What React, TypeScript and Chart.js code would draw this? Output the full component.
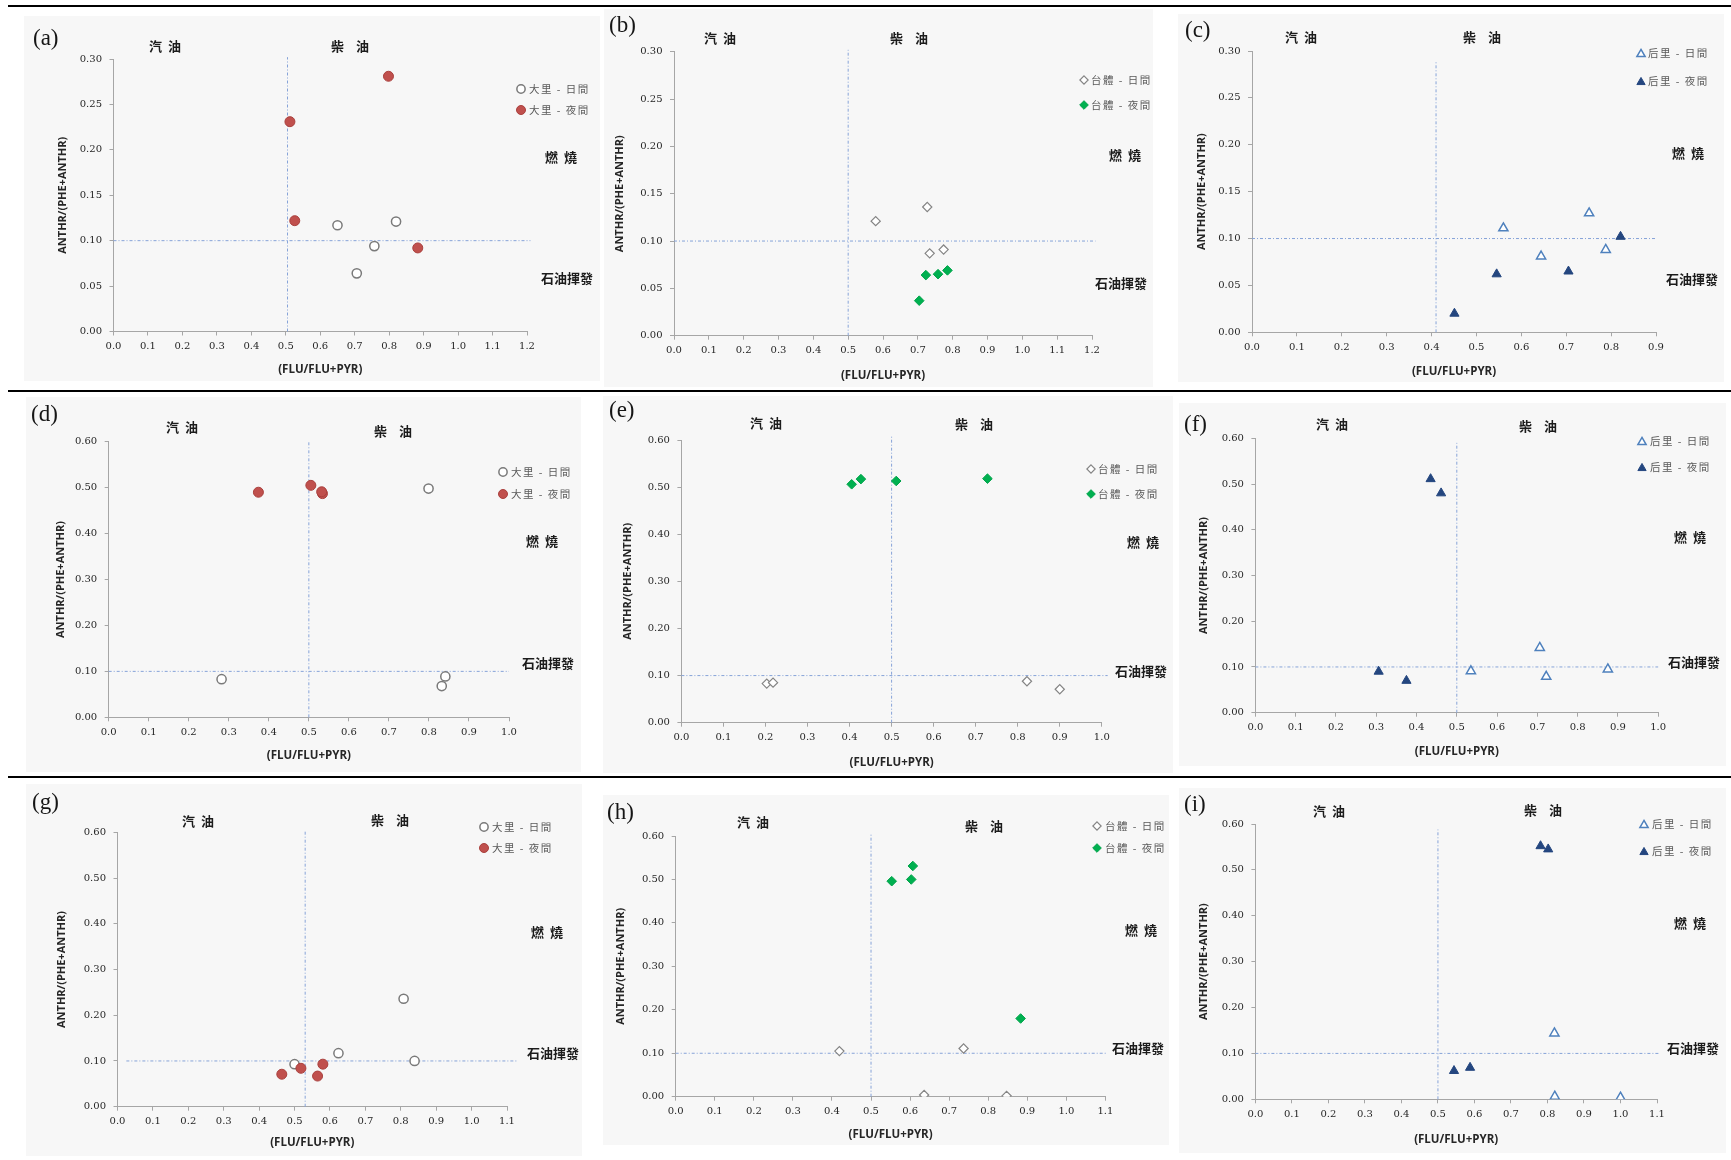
import React, { useEffect, useRef } from 'react';
import { Chart, registerables } from 'chart.js';

Chart.register(...registerables);

// ---------------- data (FLU/(FLU+PYR), ANTHR/(PHE+ANTHR)) ----------------
const aDay = [[0.65, 0.117], [0.82, 0.121], [0.757, 0.094], [0.706, 0.064]];
const aNight = [[0.798, 0.281], [0.512, 0.231], [0.526, 0.122], [0.883, 0.092]];
const bDay = [[0.579, 0.121], [0.727, 0.136], [0.734, 0.087], [0.774, 0.091]];
const bNight = [[0.723, 0.064], [0.758, 0.065], [0.785, 0.069], [0.704, 0.037]];
const cDay = [[0.56, 0.111], [0.751, 0.127], [0.644, 0.081], [0.788, 0.088]];
const cNight = [[0.821, 0.102], [0.545, 0.062], [0.705, 0.065], [0.451, 0.02]];
const dDay = [[0.799, 0.498], [0.282, 0.083], [0.841, 0.089], [0.832, 0.068]];
const dNight = [[0.374, 0.49], [0.505, 0.505], [0.534, 0.487], [0.532, 0.491]];
const eDay = [[0.203, 0.083], [0.218, 0.085], [0.822, 0.088], [0.9, 0.071]];
const eNight = [[0.405, 0.506], [0.427, 0.517], [0.511, 0.513], [0.728, 0.518]];
const fDay = [[0.535, 0.091], [0.706, 0.142], [0.722, 0.079], [0.875, 0.095]];
const fNight = [[0.435, 0.511], [0.461, 0.48], [0.306, 0.09], [0.375, 0.07]];
const gDay = [[0.808, 0.236], [0.624, 0.117], [0.839, 0.1], [0.5, 0.093]];
const gNight = [[0.464, 0.071], [0.518, 0.084], [0.58, 0.093], [0.565, 0.067]];
const hDay = [[0.419, 0.105], [0.737, 0.111], [0.636, 0.004], [0.847, 0.002]];
const hNight = [[0.553, 0.496], [0.603, 0.5], [0.607, 0.531], [0.883, 0.18]];
const iDay = [[0.819, 0.144], [0.82, 0.006], [1.0, 0.004]];
const iNight = [[0.781, 0.552], [0.802, 0.545], [0.544, 0.062], [0.588, 0.069]];

const PANEL_IDS = ['a', 'b', 'c', 'd', 'e', 'f', 'g', 'h', 'i'];
const DAY_DATA = [aDay, bDay, cDay, dDay, eDay, fDay, gDay, hDay, iDay];
const NIGHT_DATA = [aNight, bNight, cNight, dNight, eNight, fNight, gNight, hNight, iNight];
const STATIONS = ['大里', '台體', '后里'];
const PANEL_STATION = [0, 1, 2, 0, 1, 2, 0, 1, 2];
const X_MAX = [1.2, 1.2, 0.9, 1.0, 1.0, 1.0, 1.1, 1.1, 1.1];
const Y_MAX = [0.3, 0.3, 0.3, 0.6, 0.6, 0.6, 0.6, 0.6, 0.6];
const Y_STEP = [0.05, 0.05, 0.05, 0.1, 0.1, 0.1, 0.1, 0.1, 0.1];
const X_STEP = 0.1;
const REF_X = [0.505, 0.5, 0.41, 0.5, 0.5, 0.5, 0.53, 0.5, 0.5];
const REF_X_TOP = [0.302, 0.302, 0.29, 0.6, 0.607, 0.59, 0.605, 0.605, 0.588];
const REF_Y = 0.1;
const REF_Y_START = [0, 0, 0, 0, 0, 0, 0.025, 0, 0];
const REF_Y_END = [1.21, 1.21, 0.9, 1.0, 1.014, 1.0, 1.132, 1.104, 1.105];
const X_TITLE = '(FLU/FLU+PYR)';
const Y_TITLE = 'ANTHR/(PHE+ANTHR)';
const TXT_GAS = '汽  油';
const TXT_DIESEL = '柴    油';
const TXT_BURN = '燃  燒';
const TXT_PETRO = '石油揮發';
const DAY_LABEL = '日間';
const NIGHT_LABEL = '夜間';

// ---------------- layout (page pixels) ----------------
type L = {
  box: number[]; plot: number[]; yTitleX: number; xTitleY: number; label: number[];
  gas: number[]; diesel: number[]; burn: number[]; petro: number[]; legend: number[];
};
const LAYOUT: L[] = [
  { box: [24, 16, 576, 365], plot: [113.5, 59, 527, 331.5], yTitleX: 63, xTitleY: 370, label: [33, 39],
    gas: [165, 46], diesel: [350, 46], burn: [561, 157], petro: [567, 278], legend: [521, 529, 89, 110] },
  { box: [604, 9, 549, 378], plot: [674, 51.7, 1092, 335.7], yTitleX: 620, xTitleY: 376, label: [609, 26],
    gas: [720, 38], diesel: [909, 38], burn: [1125, 155], petro: [1121, 283], legend: [1084, 1091, 80, 105] },
  { box: [1178, 14, 546, 368], plot: [1252, 51, 1656, 332.3], yTitleX: 1202, xTitleY: 372, label: [1185, 31],
    gas: [1301, 37], diesel: [1482, 37], burn: [1688, 153], petro: [1692, 279], legend: [1641, 1648, 53, 81] },
  { box: [26, 397, 555, 375], plot: [108.7, 441.7, 509, 717.3], yTitleX: 61, xTitleY: 756, label: [31, 415],
    gas: [182, 427], diesel: [393, 431], burn: [542, 541], petro: [548, 663], legend: [503, 511, 472, 494] },
  { box: [603, 396, 570, 377], plot: [681.4, 440, 1101.8, 722.7], yTitleX: 628, xTitleY: 763, label: [609, 411],
    gas: [766, 423], diesel: [974, 424], burn: [1143, 542], petro: [1141, 671], legend: [1091, 1098, 469, 494] },
  { box: [1179, 403, 547, 363], plot: [1255.4, 438.3, 1658.2, 712.7], yTitleX: 1204, xTitleY: 752, label: [1184, 425],
    gas: [1332, 424], diesel: [1538, 426], burn: [1690, 537], petro: [1694, 662], legend: [1642, 1650, 441, 467] },
  { box: [26, 784, 556, 372], plot: [117.5, 832.3, 507, 1106.7], yTitleX: 62, xTitleY: 1142.7, label: [32, 803],
    gas: [198, 821], diesel: [390, 820], burn: [547, 932], petro: [553, 1053], legend: [484, 492, 827, 848] },
  { box: [603, 795, 566, 350], plot: [675.7, 836, 1105.4, 1096.7], yTitleX: 621, xTitleY: 1134.3, label: [607, 813],
    gas: [753, 822], diesel: [984, 826], burn: [1141, 930], petro: [1138, 1048], legend: [1097, 1105, 826, 848] },
  { box: [1179, 788, 547, 365], plot: [1255.4, 824, 1657, 1099.3], yTitleX: 1204, xTitleY: 1139.3, label: [1184, 805],
    gas: [1329, 811], diesel: [1543, 810], burn: [1690, 923], petro: [1693, 1048], legend: [1644, 1652, 824, 851] },
];

type MS = { style: string; r: number; fill: string; stroke: string; lw: number };
const MARKERS: { day: MS; night: MS }[] = [
  { day: { style: 'circle', r: 4.6, fill: '#ffffff', stroke: '#7a7a7a', lw: 1.5 },
    night: { style: 'circle', r: 5, fill: '#C0504D', stroke: '#A9403D', lw: 1 } },
  { day: { style: 'rectRot', r: 4.6, fill: '#ffffff', stroke: '#858585', lw: 1.2 },
    night: { style: 'rectRot', r: 4.8, fill: '#00B050', stroke: '#00A34A', lw: 1 } },
  { day: { style: 'triangle', r: 5.3, fill: '#ffffff', stroke: '#4F81BD', lw: 1.5 },
    night: { style: 'triangle', r: 5.3, fill: '#24467F', stroke: '#24467F', lw: 1 } },
];

const REF_COLOR = '#86A3D8';
const AXIS_COLOR = '#A6A6A6';
const TICK_FONT = { family: '"DejaVu Serif", serif', size: 10 };
const TICK_COLOR = '#262626';
const TITLE_FAMILY = '"Open Sans", "Liberation Sans", sans-serif';
const CJK = '"Noto Sans CJK TC", "Noto Sans CJK SC", sans-serif';

function drawMarker(ctx: CanvasRenderingContext2D, m: MS, x: number, y: number, scale: number) {
  const r = m.r * scale;
  ctx.beginPath();
  if (m.style === 'circle') {
    ctx.arc(x, y, r, 0, Math.PI * 2);
  } else if (m.style === 'rectRot') {
    ctx.moveTo(x, y - r);
    ctx.lineTo(x + r, y);
    ctx.lineTo(x, y + r);
    ctx.lineTo(x - r, y);
    ctx.closePath();
  } else {
    const cy = y + r / 4;
    const s = Math.sin((2 * Math.PI) / 3) * r;
    ctx.moveTo(x, cy - r);
    ctx.lineTo(x + s, cy + r / 2);
    ctx.lineTo(x - s, cy + r / 2);
    ctx.closePath();
  }
  ctx.fillStyle = m.fill;
  ctx.fill();
  ctx.lineWidth = m.lw;
  ctx.strokeStyle = m.stroke;
  ctx.stroke();
}

function Panel({ idx }: { idx: number }) {
  const ref = useRef<HTMLCanvasElement | null>(null);
  const lay = LAYOUT[idx];
  const [bx, by, bw, bh] = lay.box;

  useEffect(() => {
    const canvas = ref.current;
    if (!canvas) return;
    const st = PANEL_STATION[idx];
    const mk = MARKERS[st];
    const [pl, pt, pr, pb] = lay.plot;
    const yTitleSize = 11;
    const xTitleSize = 11.5;
    const padL = lay.yTitleX - bx - (yTitleSize * 1.2) / 2;
    const yW = pl - bx - padL;
    const padT = pt - by;
    const padR = bx + bw - pr;
    const xH = by + bh - pb;
    const xTitlePad = Math.max(0, by + bh - lay.xTitleY - (xTitleSize * 1.2) / 2);

    const toPts = (arr: number[][]) => arr.map(([x, y]) => ({ x, y }));
    const ds = (label: string, arr: number[][], m: MS, order: number) => ({
      label,
      data: toPts(arr),
      pointStyle: m.style,
      pointRadius: m.r,
      pointBackgroundColor: m.fill,
      pointBorderColor: m.stroke,
      pointBorderWidth: m.lw,
      backgroundColor: m.fill,
      borderColor: m.stroke,
      showLine: false,
      order,
    });

    const decor = {
      id: 'decor' + idx,
      afterDraw(chart: any) {
        const ctx: CanvasRenderingContext2D = chart.ctx;
        ctx.save();
        ctx.textBaseline = 'middle';
        // panel label
        ctx.font = '23px "Liberation Serif", serif';
        ctx.fillStyle = '#161616';
        ctx.textAlign = 'left';
        ctx.fillText('(' + PANEL_IDS[idx] + ')', lay.label[0] - bx, lay.label[1] - by);
        // region annotations
        ctx.font = 'bold 13px ' + CJK;
        ctx.fillStyle = '#1c1c1c';
        ctx.textAlign = 'center';
        ctx.fillText(TXT_GAS, lay.gas[0] - bx, lay.gas[1] - by);
        ctx.fillText(TXT_DIESEL, lay.diesel[0] - bx, lay.diesel[1] - by);
        ctx.fillText(TXT_BURN, lay.burn[0] - bx, lay.burn[1] - by);
        ctx.fillText(TXT_PETRO, lay.petro[0] - bx, lay.petro[1] - by);
        // legend
        const [mx, tx, y1, y2] = lay.legend;
        drawMarker(ctx, mk.day, mx - bx, y1 - by, 0.9);
        drawMarker(ctx, mk.night, mx - bx, y2 - by, 0.9);
        ctx.font = '10.5px ' + CJK;
        (ctx as any).letterSpacing = '1.5px';
        ctx.fillStyle = '#5a5a5a';
        ctx.textAlign = 'left';
        ctx.fillText(STATIONS[st] + ' - ' + DAY_LABEL, tx - bx, y1 - by);
        ctx.fillText(STATIONS[st] + ' - ' + NIGHT_LABEL, tx - bx, y2 - by);
        ctx.restore();
      },
    };

    const chart = new Chart(canvas, {
      type: 'scatter',
      data: {
        datasets: [
          ds(STATIONS[st] + ' - ' + DAY_LABEL, DAY_DATA[idx], mk.day, 1),
          ds(STATIONS[st] + ' - ' + NIGHT_LABEL, NIGHT_DATA[idx], mk.night, 0),
          {
            label: 'ref-x',
            data: [{ x: REF_X[idx], y: 0 }, { x: REF_X[idx], y: REF_X_TOP[idx] }],
            showLine: true,
            borderColor: REF_COLOR,
            borderWidth: 1,
            borderDash: [3, 2, 1, 2],
            pointRadius: 0,
            clip: false,
            order: 5,
          } as any,
          {
            label: 'ref-y',
            data: [{ x: REF_Y_START[idx], y: REF_Y }, { x: REF_Y_END[idx], y: REF_Y }],
            showLine: true,
            borderColor: REF_COLOR,
            borderWidth: 1,
            borderDash: [3, 2, 1, 2],
            pointRadius: 0,
            clip: false,
            order: 5,
          } as any,
        ],
      },
      options: {
        responsive: false,
        animation: false,
        devicePixelRatio: 1,
        events: [],
        layout: { padding: { left: padL, top: padT, right: padR, bottom: 0 } },
        plugins: { legend: { display: false }, tooltip: { enabled: false } },
        scales: {
          x: {
            type: 'linear',
            position: 'bottom',
            min: 0,
            max: X_MAX[idx],
            afterFit: (s: any) => { s.height = xH; },
            ticks: {
              stepSize: X_STEP,
              autoSkip: false,
              maxRotation: 0,
              padding: 5,
              font: TICK_FONT,
              color: TICK_COLOR,
              callback: (v: any) => Number(v).toFixed(1),
            },
            grid: { drawOnChartArea: false, drawTicks: true, tickLength: 4, color: AXIS_COLOR, lineWidth: 1 },
            border: { display: true, color: AXIS_COLOR, width: 1 },
            title: {
              display: true,
              text: X_TITLE,
              font: { family: TITLE_FAMILY, size: xTitleSize, weight: 'bold' },
              color: '#262626',
              padding: { top: 0, bottom: xTitlePad },
            },
          },
          y: {
            type: 'linear',
            min: 0,
            max: Y_MAX[idx],
            afterFit: (s: any) => { s.width = yW; },
            ticks: {
              stepSize: Y_STEP[idx],
              padding: 7.5,
              font: TICK_FONT,
              color: TICK_COLOR,
              callback: (v: any) => Number(v).toFixed(2),
            },
            grid: { drawOnChartArea: false, drawTicks: true, tickLength: 4, color: AXIS_COLOR, lineWidth: 1 },
            border: { display: true, color: AXIS_COLOR, width: 1 },
            title: {
              display: true,
              text: Y_TITLE,
              font: { family: TITLE_FAMILY, size: yTitleSize, weight: 'bold' },
              color: '#262626',
              padding: { top: 0, bottom: 0 },
            },
          },
        },
      } as any,
      plugins: [decor],
    });
    return () => chart.destroy();
  }, [idx]);

  return (
    <canvas
      ref={ref}
      width={bw}
      height={bh}
      style={{ position: 'absolute', left: bx, top: by, width: bw, height: bh, background: '#F7F7F7', display: 'block' }}
    />
  );
}

const RULES_Y = [5, 390, 776];

export default function App() {
  return (
    <div style={{ position: 'absolute', left: 0, top: 0, width: 1731, height: 1160, background: '#ffffff', overflow: 'hidden' }}>
      {RULES_Y.map((y) => (
        <div key={y} style={{ position: 'absolute', left: 8, top: y, width: 1723, height: 2, background: '#000' }} />
      ))}
      {PANEL_IDS.map((id, i) => (
        <Panel key={id} idx={i} />
      ))}
    </div>
  );
}
